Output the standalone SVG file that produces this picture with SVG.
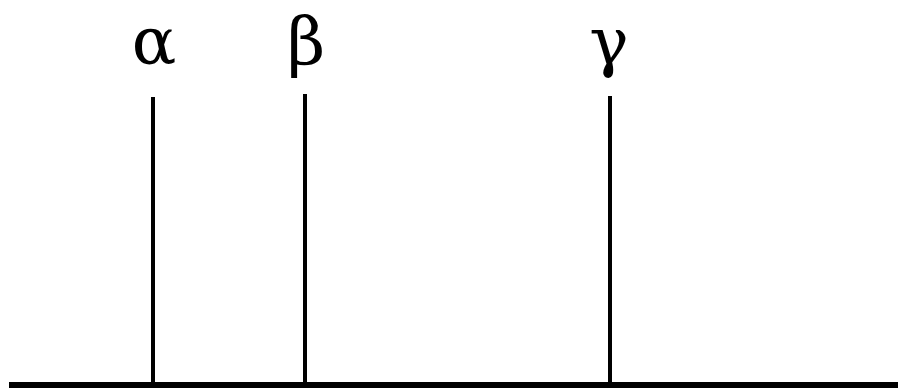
<svg xmlns="http://www.w3.org/2000/svg" width="898" height="389" viewBox="0 0 898 389">
<style>
.lbl{font-family:"DejaVu Serif",serif;font-size:66px;fill:#000;text-anchor:middle}
.ln{stroke:#000;stroke-width:4;fill:none}
.base{stroke:#000;stroke-width:6;fill:none}
</style>
<rect width="898" height="389" fill="#fff"/>
<g id="connectors">
<line class="base" x1="9" y1="385" x2="898" y2="385"/>
<line class="ln" x1="153" y1="97" x2="153" y2="385"/>
<line class="ln" x1="305" y1="94" x2="305" y2="385"/>
<line class="ln" x1="610" y1="96" x2="610" y2="385"/>
</g>
<g id="alpha"><text class="lbl" x="154" y="64">α</text></g>
<g id="beta"><text class="lbl" x="306" y="64">β</text></g>
<g id="gamma"><text class="lbl" x="609" y="64">γ</text></g>
</svg>
